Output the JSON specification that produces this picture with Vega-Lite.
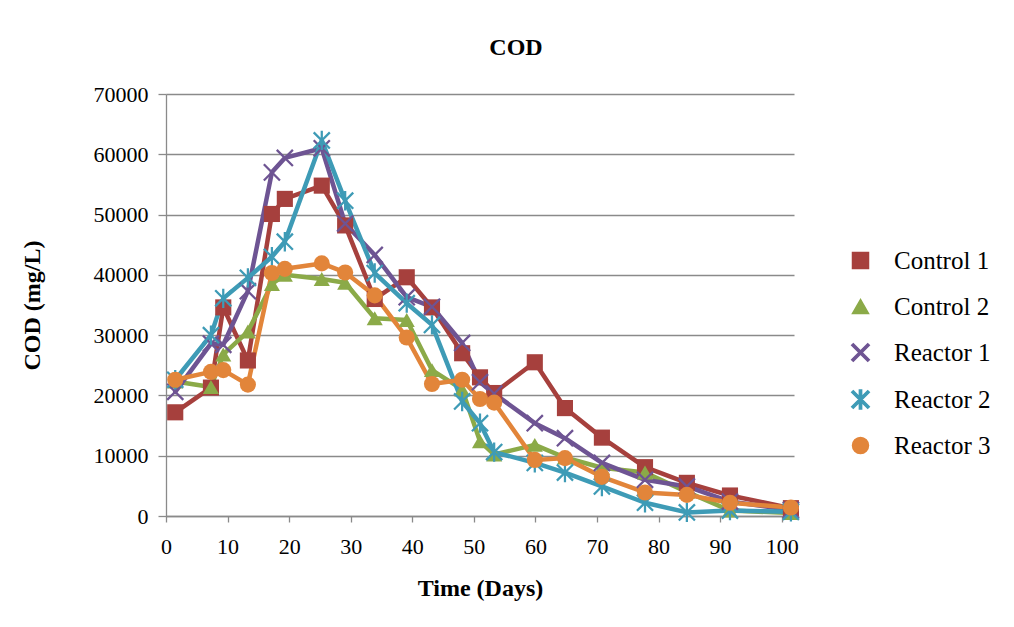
{
  "$schema": "https://vega.github.io/schema/vega-lite/v6.json",
  "width": 628,
  "height": 422,
  "autosize": {"type": "none"},
  "padding": {"left": 166, "top": 94, "right": 220, "bottom": 111},
  "background": "white",
  "title": {"text": "COD", "font": "Liberation Serif", "fontSize": 24, "fontWeight": "bold", "color": "black", "baseline": "alphabetic", "offset": 4, "dx": 36},
  "config": {
    "view": {"stroke": null},
    "axis": {"labelFont": "Liberation Serif", "labelFontSize": 22, "labelColor": "black", "titleFont": "Liberation Serif", "titleFontSize": 24, "titleFontWeight": "bold", "titleColor": "black", "domainColor": "#8a8a8a", "domainWidth": 1.3, "tickColor": "#8a8a8a", "tickWidth": 1.3, "gridColor": "#8a8a8a", "gridWidth": 1.3},
    "legend": {"orient": "right", "padding": 154, "offset": -100, "labelFont": "Liberation Serif", "labelFontSize": 25, "labelColor": "black", "symbolSize": 256, "labelOffset": 21, "rowPadding": 20}
  },
  "data": {"values": [
    {"s":"Control 1","d":1.5,"v":17200},{"s":"Control 1","d":7.3,"v":21300},{"s":"Control 1","d":9.3,"v":34600},{"s":"Control 1","d":13.3,"v":25800},{"s":"Control 1","d":17.2,"v":50100},{"s":"Control 1","d":19.3,"v":52600},{"s":"Control 1","d":25.3,"v":54800},{"s":"Control 1","d":29.1,"v":48200},{"s":"Control 1","d":33.9,"v":36000},{"s":"Control 1","d":39.1,"v":39600},{"s":"Control 1","d":43.2,"v":34600},{"s":"Control 1","d":48.1,"v":27000},{"s":"Control 1","d":51,"v":23000},{"s":"Control 1","d":53.3,"v":20400},{"s":"Control 1","d":59.9,"v":25500},{"s":"Control 1","d":64.8,"v":17900},{"s":"Control 1","d":70.8,"v":13000},{"s":"Control 1","d":77.8,"v":8100},{"s":"Control 1","d":84.6,"v":5500},{"s":"Control 1","d":91.6,"v":3400},{"s":"Control 1","d":101.5,"v":1300},
    {"s":"Control 2","d":1.5,"v":22300},{"s":"Control 2","d":7.3,"v":21400},{"s":"Control 2","d":9.3,"v":26800},{"s":"Control 2","d":13.3,"v":30600},{"s":"Control 2","d":17.2,"v":38500},{"s":"Control 2","d":19.3,"v":40000},{"s":"Control 2","d":25.3,"v":39300},{"s":"Control 2","d":29.1,"v":38700},{"s":"Control 2","d":33.9,"v":32800},{"s":"Control 2","d":39.1,"v":32500},{"s":"Control 2","d":43.2,"v":24200},{"s":"Control 2","d":48.1,"v":21000},{"s":"Control 2","d":51,"v":12400},{"s":"Control 2","d":53.3,"v":10200},{"s":"Control 2","d":59.9,"v":11800},{"s":"Control 2","d":64.8,"v":9700},{"s":"Control 2","d":70.8,"v":8000},{"s":"Control 2","d":77.8,"v":7200},{"s":"Control 2","d":84.6,"v":4000},{"s":"Control 2","d":91.6,"v":900},{"s":"Control 2","d":101.5,"v":500},
    {"s":"Reactor 1","d":1.5,"v":20600},{"s":"Reactor 1","d":7.3,"v":28600},{"s":"Reactor 1","d":9.3,"v":28400},{"s":"Reactor 1","d":13.3,"v":37300},{"s":"Reactor 1","d":17.2,"v":57000},{"s":"Reactor 1","d":19.3,"v":59400},{"s":"Reactor 1","d":25.3,"v":61000},{"s":"Reactor 1","d":29.1,"v":48500},{"s":"Reactor 1","d":33.9,"v":43300},{"s":"Reactor 1","d":39.1,"v":36300},{"s":"Reactor 1","d":43.2,"v":34700},{"s":"Reactor 1","d":48.1,"v":28700},{"s":"Reactor 1","d":51,"v":22200},{"s":"Reactor 1","d":53.3,"v":20300},{"s":"Reactor 1","d":59.9,"v":15400},{"s":"Reactor 1","d":64.8,"v":12900},{"s":"Reactor 1","d":70.8,"v":8800},{"s":"Reactor 1","d":77.8,"v":6000},{"s":"Reactor 1","d":84.6,"v":4900},{"s":"Reactor 1","d":91.6,"v":2400},{"s":"Reactor 1","d":101.5,"v":1000},
    {"s":"Reactor 2","d":1.5,"v":22600},{"s":"Reactor 2","d":7.3,"v":30000},{"s":"Reactor 2","d":9.3,"v":36100},{"s":"Reactor 2","d":13.3,"v":39500},{"s":"Reactor 2","d":17.2,"v":43000},{"s":"Reactor 2","d":19.3,"v":45500},{"s":"Reactor 2","d":25.3,"v":62300},{"s":"Reactor 2","d":29.1,"v":52300},{"s":"Reactor 2","d":33.9,"v":40300},{"s":"Reactor 2","d":39.1,"v":35300},{"s":"Reactor 2","d":43.2,"v":31700},{"s":"Reactor 2","d":48.1,"v":19000},{"s":"Reactor 2","d":51,"v":15400},{"s":"Reactor 2","d":53.3,"v":10600},{"s":"Reactor 2","d":59.9,"v":8800},{"s":"Reactor 2","d":64.8,"v":7200},{"s":"Reactor 2","d":70.8,"v":4900},{"s":"Reactor 2","d":77.8,"v":2200},{"s":"Reactor 2","d":84.6,"v":600},{"s":"Reactor 2","d":91.6,"v":900},{"s":"Reactor 2","d":101.5,"v":700},
    {"s":"Reactor 3","d":1.5,"v":22600},{"s":"Reactor 3","d":7.3,"v":23900},{"s":"Reactor 3","d":9.3,"v":24200},{"s":"Reactor 3","d":13.3,"v":21800},{"s":"Reactor 3","d":17.2,"v":40300},{"s":"Reactor 3","d":19.3,"v":41000},{"s":"Reactor 3","d":25.3,"v":41900},{"s":"Reactor 3","d":29.1,"v":40400},{"s":"Reactor 3","d":33.9,"v":36600},{"s":"Reactor 3","d":39.1,"v":29600},{"s":"Reactor 3","d":43.2,"v":21900},{"s":"Reactor 3","d":48.1,"v":22600},{"s":"Reactor 3","d":51,"v":19400},{"s":"Reactor 3","d":53.3,"v":18800},{"s":"Reactor 3","d":59.9,"v":9300},{"s":"Reactor 3","d":64.8,"v":9600},{"s":"Reactor 3","d":70.8,"v":6500},{"s":"Reactor 3","d":77.8,"v":3900},{"s":"Reactor 3","d":84.6,"v":3500},{"s":"Reactor 3","d":91.6,"v":2200},{"s":"Reactor 3","d":101.5,"v":1400}
  ]},
  "encoding": {
    "x": {"field": "d", "type": "quantitative", "scale": {"domain": [0, 102], "nice": false, "zero": false},
      "axis": {"title": "Time (Days)", "values": [0,10,20,30,40,50,60,70,80,90,100], "grid": false, "tickSize": 6, "labelPadding": 14, "titlePadding": 19, "labelFlush": false}},
    "y": {"field": "v", "type": "quantitative", "scale": {"domain": [0, 70000], "nice": false},
      "axis": {"title": "COD (mg/L)", "values": [0,10000,20000,30000,40000,50000,60000,70000], "format": "d", "grid": true, "tickSize": 8, "labelPadding": 10, "titleX": -134, "titleBaseline": "middle"}}
  },
  "layer": [
    {
      "mark": {"type": "line", "strokeWidth": 4.5, "strokeJoin": "round", "strokeCap": "round"},
      "encoding": {"stroke": {"field": "s", "type": "nominal", "legend": {"title": null},
        "scale": {"domain": ["Control 1","Control 2","Reactor 1","Reactor 2","Reactor 3"], "range": ["#A6403D","#8BAA48","#6E5493","#3E9BB6","#E2853A"]}}}
    },
    {
      "mark": {"type": "point", "filled": true, "opacity": 1, "size": 260},
      "encoding": {
        "color": {"field": "s", "type": "nominal",
          "scale": {"domain": ["Control 1","Control 2","Reactor 1","Reactor 2","Reactor 3"], "range": ["#A6403D","#8BAA48","#6E5493","#3E9BB6","#E2853A"]},
          "legend": {"title": null}
        },
        "shape": {"field": "s", "type": "nominal",
          "scale": {"domain": ["Control 1","Control 2","Reactor 1","Reactor 2","Reactor 3"],
            "range": ["square", "triangle-up",
              "M-0.9,-1.1L1.1,0.9L0.9,1.1L-1.1,-0.9Z M0.9,-1.1L1.1,-0.9L-0.9,1.1L-1.1,0.9Z",
              "M-0.9,-1.1L1.1,0.9L0.9,1.1L-1.1,-0.9Z M0.9,-1.1L1.1,-0.9L-0.9,1.1L-1.1,0.9Z M-0.14,-1.2H0.14V1.2H-0.14Z",
              "circle"]},
          "legend": {"title": null}
        }
      }
    }
  ]
}
